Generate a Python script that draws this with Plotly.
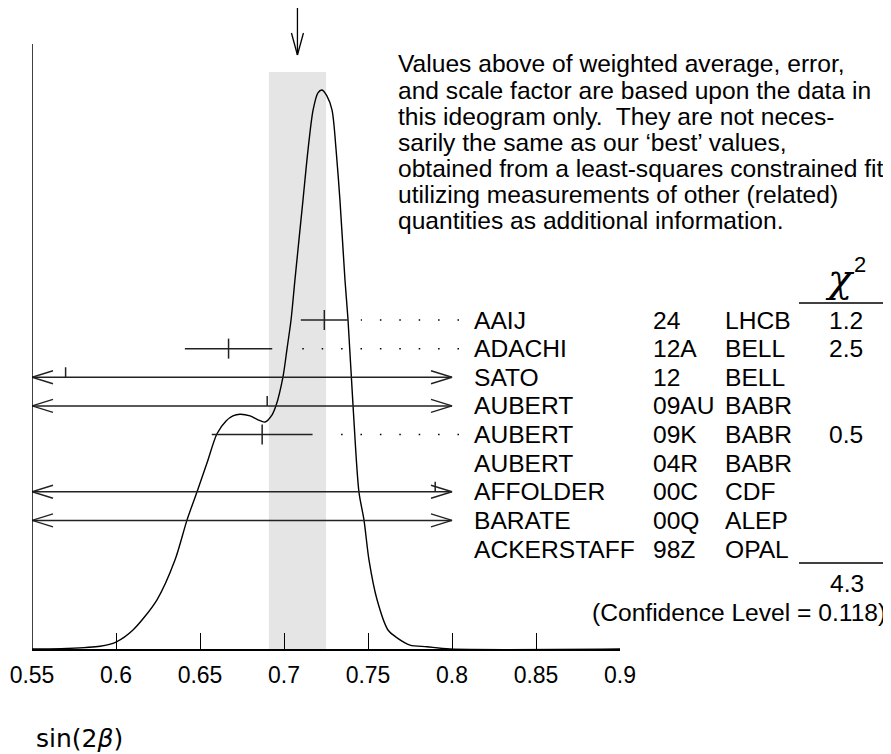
import plotly.graph_objects as go

# ---------------- data ----------------
authors = ["AAIJ", "ADACHI", "SATO", "AUBERT", "AUBERT", "AUBERT", "AFFOLDER", "BARATE", "ACKERSTAFF"]
years = ["24", "12A", "12", "09AU", "09K", "04R", "00C", "00Q", "98Z"]
experiments = ["LHCB", "BELL", "BELL", "BABR", "BABR", "BABR", "CDF", "ALEP", "OPAL"]
values = [0.724, 0.667, 0.57, 0.69, 0.687, None, 0.79, 0.84, 3.2]
errors = [0.014, 0.026, 0.58, 0.52, 0.030, None, 0.42, 0.93, 1.9]
chi2 = ["1.2", "2.5", "", "", "0.5", "", "", "", ""]
chi2_total = "4.3"
confidence_level = "0.118"
weighted_avg = 0.708
weighted_err = 0.017

# ideogram curve (peak normalised to 1)
curve_x = [0.55, 0.5708, 0.5905, 0.6000, 0.6101, 0.6244, 0.6351, 0.6423, 0.6482, 0.6542,
           0.6601, 0.6655, 0.6696, 0.6738, 0.6798, 0.6845, 0.6887, 0.6929, 0.6952, 0.6994,
           0.7018, 0.7042, 0.7065, 0.7113, 0.7143, 0.7173, 0.7202, 0.7226, 0.7256, 0.7286,
           0.7310, 0.7333, 0.7363, 0.7381, 0.7411, 0.7446, 0.7476, 0.7506, 0.7554, 0.7619,
           0.7673, 0.7750, 0.7851, 0.7988, 0.9]
curve_y = [0.0, 0.001, 0.005, 0.0125, 0.034, 0.088, 0.159, 0.231, 0.281, 0.333,
           0.385, 0.408, 0.417, 0.420, 0.417, 0.410, 0.406, 0.419, 0.435, 0.487,
           0.537, 0.589, 0.660, 0.803, 0.893, 0.964, 0.995, 1.0, 0.989, 0.964,
           0.893, 0.803, 0.660, 0.589, 0.435, 0.281, 0.231, 0.159, 0.088, 0.034,
           0.020, 0.007, 0.004, 0.0, 0.0]

tick_vals = [0.55, 0.6, 0.65, 0.7, 0.75, 0.8, 0.85, 0.9]
tick_labels = ["0.55", "0.6", "0.65", "0.7", "0.75", "0.8", "0.85", "0.9"]

note_lines = [
    "Values above of weighted average, error,",
    "and scale factor are based upon the data in",
    "this ideogram only.\u00a0 They are not neces-",
    "sarily the same as our \u2018best\u2019 values,",
    "obtained from a least-squares constrained fit",
    "utilizing measurements of other (related)",
    "quantities as additional information.",
]

# ---------------- layout geometry ----------------
OFF = 8                             # page body margin
W, H = 891 - OFF, 754 - OFF
PL, PR, PB = 32 - OFF, 620 - OFF, 649 - OFF   # plot area in figure pixels
X0, X1 = 0.55, 0.9
PX_PER_X = (PR - PL) / (X1 - X0)
ARROW_END = X0 + (452 - 32) / PX_PER_X
DOT_END = X0 + (459 - 32) / PX_PER_X
ROW0, ROW_STEP = 320 - OFF, 28.625
Y_TOP = PB / 559.0                  # curve peak height = 559 px


def fx(p):  # page pixel -> paper x
    return (p - OFF - PL) / (PR - PL)


def fy(p):  # page pixel -> paper y
    return (PB - (p - OFF)) / PB


def row_unit(px):
    return px / ROW_STEP


FONT = "Liberation Sans, Arial, Helvetica, sans-serif"
BLACK = "#000000"
FS = 24.6

fig = go.Figure()

# ideogram curve
fig.add_trace(go.Scatter(x=curve_x, y=curve_y, mode="lines",
                         line=dict(color=BLACK, width=1.4, shape="spline", smoothing=0.8),
                         hoverinfo="skip", showlegend=False))

bar_x, bar_y = [], []
head_x, head_y = [], []
tick_x, tick_y = [], []
hx = 21 / PX_PER_X
hy = row_unit(6.5)
tk = row_unit(10)
for i, (v, e) in enumerate(zip(values, errors)):
    if v is None or e is None:
        continue
    lo, hi = v - e, v + e
    if lo >= ARROW_END or hi <= X0:
        continue
    left, right = max(lo, X0), min(hi, ARROW_END)
    bar_x += [left, right, None]
    bar_y += [i, i, None]
    if lo < X0:
        head_x += [X0 + hx, X0, X0 + hx, None]
        head_y += [i - hy, i, i + hy, None]
    if hi > ARROW_END:
        head_x += [ARROW_END - hx, ARROW_END, ARROW_END - hx, None]
        head_y += [i - hy, i, i + hy, None]
    if X0 <= v <= ARROW_END:
        if lo >= X0 and hi <= ARROW_END:
            tick_x += [v, v, None]
            tick_y += [i - tk, i + tk, None]
        else:
            tick_x += [v, v, None]
            tick_y += [i, i - tk, None]
    if chi2[i]:
        fig.add_trace(go.Scatter(x=[DOT_END, right + 13 / PX_PER_X], y=[i, i], yaxis="y2",
                                 mode="lines", line=dict(color=BLACK, width=1.5, dash="1.5px,17.9px"),
                                 hoverinfo="skip", showlegend=False))

fig.add_trace(go.Scatter(x=bar_x, y=bar_y, yaxis="y2", mode="lines",
                         line=dict(color="#222222", width=1.5), hoverinfo="skip", showlegend=False))
fig.add_trace(go.Scatter(x=head_x, y=head_y, yaxis="y2", mode="lines",
                         line=dict(color="#222222", width=1.4), hoverinfo="skip", showlegend=False))
fig.add_trace(go.Scatter(x=tick_x, y=tick_y, yaxis="y2", mode="lines",
                         line=dict(color="#222222", width=1.5), hoverinfo="skip", showlegend=False))

shapes = []
# weighted average band
shapes.append(dict(type="rect", xref="x", yref="paper",
                   x0=weighted_avg - weighted_err, x1=weighted_avg + weighted_err,
                   y0=0, y1=fy(72), fillcolor="#e5e5e5", line=dict(width=0), layer="below"))
# left vertical axis
shapes.append(dict(type="line", xref="x", yref="paper", x0=X0, x1=X0, y0=0, y1=fy(44),
                   line=dict(color=BLACK, width=1.5)))
# arrow marking the average
ax_ = 6 / PX_PER_X
shapes.append(dict(type="line", xref="x", yref="paper", x0=weighted_avg, x1=weighted_avg,
                   y0=fy(3), y1=fy(55), line=dict(color=BLACK, width=1.3)))
shapes.append(dict(type="line", xref="x", yref="paper", x0=weighted_avg - ax_, x1=weighted_avg,
                   y0=fy(33), y1=fy(55), line=dict(color=BLACK, width=1.3)))
shapes.append(dict(type="line", xref="x", yref="paper", x0=weighted_avg + ax_, x1=weighted_avg,
                   y0=fy(33), y1=fy(55), line=dict(color=BLACK, width=1.3)))
# chi2 column rules
for yy in (303, 563):
    shapes.append(dict(type="line", xref="paper", yref="paper", x0=fx(799), x1=fx(891),
                       y0=fy(yy), y1=fy(yy), line=dict(color=BLACK, width=1.3)))

ann = []
for k, t in enumerate(note_lines):
    ann.append(dict(xref="paper", yref="paper", x=fx(396), y=fy(64 + 26 * k), text=t,
                    showarrow=False, xanchor="left", yanchor="middle",
                    font=dict(family=FONT, size=FS, color=BLACK)))
for i in range(len(authors)):
    for xp, txt in ((472, authors[i]), (651, years[i]), (723, experiments[i])):
        ann.append(dict(xref="paper", yref="y2", x=fx(xp), y=i, text=txt, showarrow=False,
                        xanchor="left", yanchor="middle", font=dict(family=FONT, size=FS, color=BLACK)))
    if chi2[i]:
        ann.append(dict(xref="paper", yref="y2", x=fx(865), y=i, text=chi2[i], showarrow=False,
                        xanchor="right", yanchor="middle", font=dict(family=FONT, size=FS, color=BLACK)))
ann.append(dict(xref="paper", yref="paper", x=fx(840), y=fy(278), text="<i>\u03c7</i>",
                showarrow=False, xanchor="center", yanchor="middle",
                font=dict(family="DejaVu Serif, serif", size=40, color=BLACK)))
ann.append(dict(xref="paper", yref="paper", x=fx(860), y=fy(264), text="2",
                showarrow=False, xanchor="center", yanchor="middle",
                font=dict(family=FONT, size=22, color=BLACK)))
ann.append(dict(xref="paper", yref="paper", x=fx(866), y=fy(583), text=chi2_total,
                showarrow=False, xanchor="right", yanchor="middle",
                font=dict(family=FONT, size=FS, color=BLACK)))
ann.append(dict(xref="paper", yref="paper", x=fx(888), y=fy(612),
                text="(Confidence Level = " + confidence_level + ")",
                showarrow=False, xanchor="right", yanchor="middle",
                font=dict(family=FONT, size=FS, color=BLACK)))
ann.append(dict(xref="paper", yref="paper", x=fx(34), y=fy(738), text="sin(2<i>\u03b2</i>)",
                showarrow=False, xanchor="left", yanchor="middle",
                font=dict(family="DejaVu Sans, sans-serif", size=25, color=BLACK)))

fig.update_layout(
    width=W, height=H,
    margin=dict(l=PL, r=W - PR, t=0, b=H - PB, pad=0),
    paper_bgcolor="white", plot_bgcolor="white",
    showlegend=False,
    xaxis=dict(range=[X0, X1], tickvals=tick_vals, ticktext=tick_labels,
               ticks="inside", ticklen=16, tickwidth=1.3, tickcolor=BLACK,
               showline=True, linecolor=BLACK, linewidth=1.5, mirror=False,
               showgrid=False, zeroline=False, ticklabelstandoff=5,
               tickfont=dict(family=FONT, size=23, color=BLACK)),
    yaxis=dict(range=[0, Y_TOP], visible=False, showgrid=False, zeroline=False),
    yaxis2=dict(range=[(PB - ROW0) / ROW_STEP, -ROW0 / ROW_STEP], overlaying="y",
                visible=False, showgrid=False, zeroline=False),
    shapes=shapes, annotations=ann,
)

fig.write_html("out.html")
